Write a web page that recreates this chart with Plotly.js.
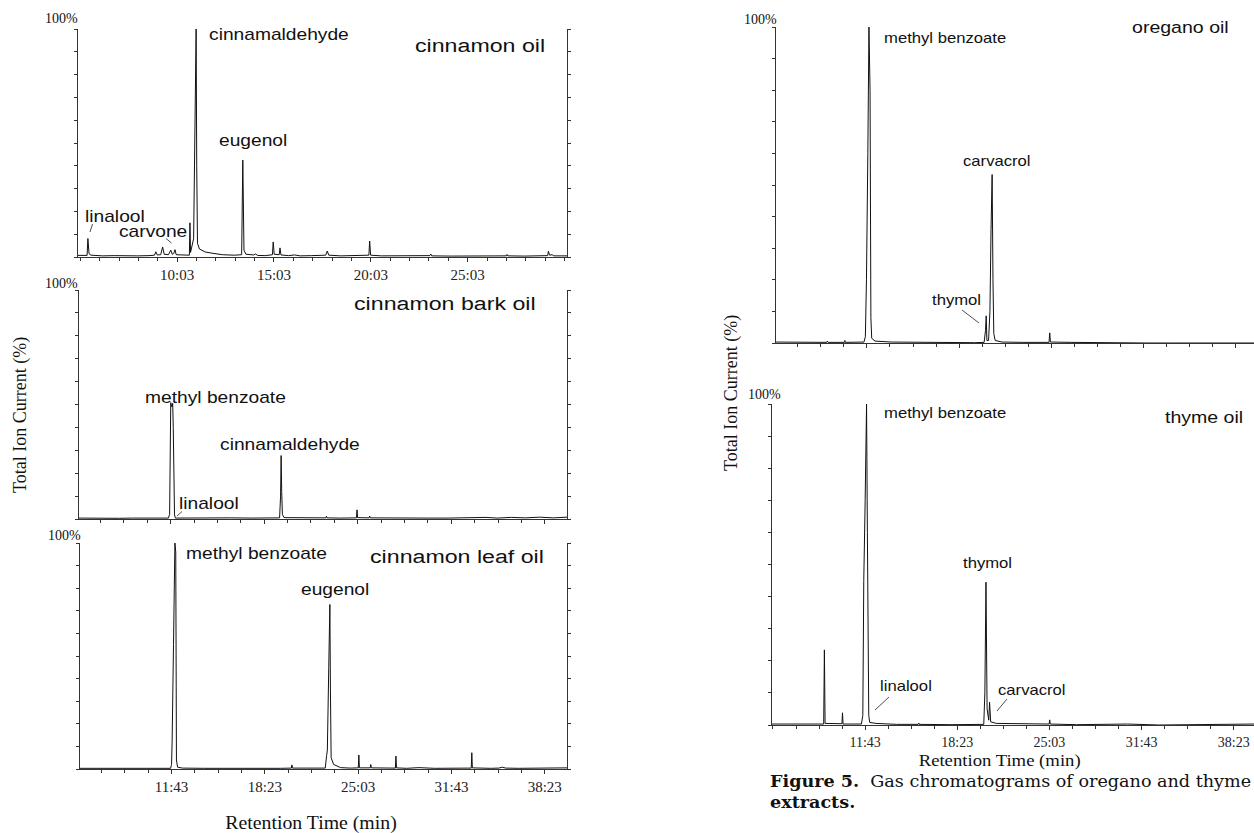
<!DOCTYPE html>
<html><head><meta charset="utf-8">
<script src="https://cdn.plot.ly/plotly-3.0.1.min.js"></script>
<style>html,body{margin:0;padding:0;background:#fff;}#chart{width:1254px;height:833px;}</style>
</head><body><div id="chart"></div>
<script>
// ---------- data (retention time in min, total ion current in %) ----------
const cinnamonOilTime = [4.93,5.2,5.40,5.44,5.50,5.6,6.2,6.8,7.4,8.0,8.6,8.88,8.95,9.02,9.2,9.30,9.38,9.6,9.72,9.80,9.87,9.94,10.0,10.3,10.68,10.71,10.74,10.9,11.0,11.03,11.06,11.1,11.2,11.5,11.9,12.4,13.0,13.38,13.44,13.5,13.6,14.0,14.1,14.2,14.6,14.97,15.01,15.06,15.32,15.36,15.41,15.8,16.12,16.4,17.0,17.72,17.8,17.88,18.5,19.2,19.95,19.99,20.04,20.6,21.5,22.3,23.1,23.15,23.2,24.2,25.2,26.2,27.04,27.08,27.12,28.0,28.8,29.18,29.22,29.28,29.41,29.5,30.18];
const cinnamonOilTIC  = [0.7,0.6,0.7,8.1,1.5,0.8,0.5,0.6,0.4,0.5,0.6,0.8,2.3,0.9,1.0,4.4,1.2,1.0,3.0,1.2,1.5,3.2,1.0,0.8,0.8,15,2,8,90,100,40,6,3.5,2.2,1.6,1.0,0.8,1.0,42.5,3,1.2,0.9,1.3,0.7,0.6,1.0,6.6,1.2,1.0,4.0,0.9,0.6,0.9,0.5,0.6,0.8,2.6,0.8,0.5,0.6,0.8,7.0,0.8,0.5,0.6,0.5,0.6,1.3,0.5,0.4,0.5,0.4,0.5,1.1,0.5,0.4,0.5,0.6,2.5,0.8,1.0,0.5,0.5];

const barkOilTime = [5.18,6.0,7.0,8.0,9.0,10.0,11.0,11.55,11.64,11.68,11.72,11.80,11.86,11.90,11.94,11.99,12.05,13.0,14.5,16.0,17.5,19.0,19.48,19.55,19.59,19.63,19.68,19.8,20.5,21.5,22.78,22.82,22.86,23.8,24.96,25.0,25.04,25.86,25.9,25.95,27.0,28.5,30.0,31.5,33.2,34.2,35.0,36.0,37.0,38.0,39.0,39.97];
const barkOilTIC  = [0.4,0.3,0.4,0.3,0.4,0.3,0.4,0.4,2,45,50.8,49,50.5,40,2,1.8,0.4,0.5,0.4,0.5,0.4,0.4,0.5,10,27.7,12,2,0.6,0.5,0.4,0.5,1.2,0.5,0.4,0.5,4.0,0.6,0.5,1.3,0.5,0.4,0.5,0.4,0.4,0.5,0.7,0.4,0.7,0.5,0.8,0.5,0.8];

const leafOilTime = [5.18,7.3,8.0,8.98,9.02,9.06,10.5,11.65,11.72,11.76,11.86,11.96,12.02,12.07,12.15,12.5,14.0,16.0,18.0,19.5,20.28,20.32,20.36,21.5,22.7,22.8,22.85,22.95,23.03,23.07,23.12,23.3,23.62,23.8,24.5,25.06,25.1,25.14,25.91,25.95,26.0,27.0,27.71,27.75,27.79,28.5,29.39,30.5,32.0,33.13,33.17,33.21,34.5,35.1,35.34,35.6,36.5,38.0,38.5,39.97];
const leafOilTIC  = [0.3,0.3,0.2,0.2,0.5,0.2,0.2,0.3,2,12,55,100,96,4,0.8,0.4,0.3,0.2,0.2,0.3,0.4,1.8,0.4,0.3,0.4,6,8.4,45,72.8,35,5,2,1.0,0.6,0.4,0.5,6.2,0.5,0.5,2.0,0.5,0.3,0.4,5.7,0.5,0.3,0.6,0.3,0.3,0.4,7.2,0.5,0.3,0.4,0.8,0.4,0.3,0.3,0.5,0.5];

const oreganoTime = [5.13,6.5,7.5,8.80,8.84,8.9,10.08,10.12,10.16,11.5,11.6,11.68,11.78,11.86,11.94,12.0,12.06,12.3,13.5,15.0,16.5,18.0,19.5,20.2,20.3,20.35,20.4,20.52,20.62,20.7,20.78,20.84,20.9,21.0,21.5,23.0,24.9,24.95,25.0,26.5,28.0,30.0,32.0,34.0,36.0,38.0,39.74];
const oreganoTIC  = [0.3,0.3,0.2,0.2,0.6,0.2,0.2,0.8,0.2,0.3,2,20,60,100,80,8,1.5,0.6,0.3,0.2,0.1,0.2,0.1,0.2,4,8.6,0.8,0.8,10,36,53.3,20,3,0.8,0.3,0.2,0.2,3.2,0.3,0.2,0.1,0.2,0,0,0,0,0];

const thymeTime = [4.98,6.0,7.5,8.72,8.77,8.82,10.04,10.08,10.12,11.45,11.55,11.62,11.72,11.82,11.88,11.93,11.98,12.05,12.5,14.0,15.56,15.6,15.64,18.0,20.3,20.38,20.46,20.54,20.66,20.72,20.8,21.2,23.0,25.03,25.07,25.11,27.0,30.7,33.0,36.0,38.0,39.85];
const thymeTIC  = [0.3,0.3,0.2,0.3,23.4,0.5,0.4,3.8,0.3,0.3,3,45,70,100,60,5.2,3,0.8,0.5,0.2,0.2,0.6,0.2,0.1,0.2,10,44.5,5,1.5,7.1,1.0,0.5,0.3,0.3,1.6,0.3,0.1,0.3,0,0.1,0.2,0.3];

// tick labels
const tickValsA = [10.05,15.05,20.05,25.05];
const tickTextA = ['10:03','15:03','20:03','25:03'];
const tickValsB = [11.717,18.383,25.05,31.717,38.383];
const tickTextB = ['11:43','18:23','25:03','31:43','38:23'];

// ---------- layout helpers ----------
const W = 1254, H = 833;
const px = x => x / W;
const py = y => 1 - y / H;
const AX = '#333';
const SANS = 'Liberation Sans, Arial, sans-serif';
const SERIF = 'Liberation Serif, Times New Roman, serif';

function trace(t, v, n) {
  return {x: t, y: v, xaxis: 'x' + (n === 1 ? '' : n), yaxis: 'y' + (n === 1 ? '' : n),
    type: 'scatter', mode: 'lines', line: {color: '#111', width: 1}, hoverinfo: 'skip'};
}
function xax(dom, rng, anchor, vals, text, showLabels, minorDt) {
  return {domain: [px(dom[0]), px(dom[1])], range: rng, anchor: anchor,
    showgrid: false, zeroline: false, showline: true, linecolor: AX, linewidth: 1,
    tickmode: 'array', tickvals: vals, ticktext: text, showticklabels: showLabels,
    ticks: 'outside', ticklen: 4, tickcolor: AX, tickwidth: 1,
    tickfont: {family: SERIF, size: 15, color: '#222'},
    minor: {tickmode: 'linear', tick0: vals[0], dtick: minorDt, ticks: 'outside', ticklen: 3, tickcolor: AX},
    fixedrange: true};
}
function yax(dom, anchor, mirror) {
  return {domain: [py(dom[1]), py(dom[0])], range: [0, 100], anchor: anchor,
    showgrid: false, zeroline: false, showline: true, linecolor: AX, linewidth: 1,
    mirror: mirror ? 'ticks' : false,
    tickmode: 'linear', tick0: 0, dtick: 10, ticks: 'outside', ticklen: 3, tickcolor: AX,
    showticklabels: false, fixedrange: true};
}
const ann = [];
const annStretch = [];
function label(text, x, y, size, family, extra, stretch) {
  ann.push(Object.assign({text: text, xref: 'paper', yref: 'paper', x: px(x), y: py(y),
    xanchor: 'left', yanchor: 'middle', showarrow: false,
    font: {family: family || SANS, size: size, color: '#111'}}, extra || {}));
  annStretch.push(stretch || 1);
}
const shapes = [];
function leader(x0, y0, x1, y1) {
  shapes.push({type: 'line', xref: 'paper', yref: 'paper', x0: px(x0), y0: py(y0), x1: px(x1), y1: py(y1),
    line: {color: '#222', width: 0.8}});
}

const data = [
  trace(cinnamonOilTime, cinnamonOilTIC, 1),
  trace(barkOilTime, barkOilTIC, 2),
  trace(leafOilTime, leafOilTIC, 3),
  trace(oreganoTime, oreganoTIC, 4),
  trace(thymeTime, thymeTIC, 5)
];

const layout = {
  width: W, height: H, margin: {l: 0, r: 0, t: 0, b: 0},
  paper_bgcolor: '#fff', plot_bgcolor: '#fff', showlegend: false,
  xaxis:  xax([78, 567], [4.93, 30.18], 'y', tickValsA, tickTextA, true, 1),
  yaxis:  yax([29, 257], 'x', true),
  xaxis2: xax([79, 567], [5.18, 39.97], 'y2', tickValsB, tickTextB, false, 1.6667),
  yaxis2: yax([290, 519], 'x2', true),
  xaxis3: xax([80, 567], [5.18, 39.97], 'y3', tickValsB, tickTextB, true, 1.6667),
  yaxis3: yax([543, 769], 'x3', true),
  xaxis4: xax([776, 1254], [5.13, 39.74], 'y4', tickValsB, tickTextB, false, 1.6667),
  yaxis4: yax([27, 343], 'x4', false),
  xaxis5: xax([772, 1254], [4.98, 39.85], 'y5', tickValsB, tickTextB, true, 1.6667),
  yaxis5: yax([404, 725], 'x5', false),
  annotations: ann, shapes: shapes
};
layout.xaxis5.tickfont = {family: SERIF, size: 14, color: '#222'};

// 100% labels
label('100%', 80, 19, 14, SERIF, {xanchor: 'right'});
label('100%', 80, 283, 14, SERIF, {xanchor: 'right'});
label('100%', 83, 535, 14, SERIF, {xanchor: 'right'});
label('100%', 779, 20, 14, SERIF, {xanchor: 'right'});
label('100%', 783, 395, 14, SERIF, {xanchor: 'right'});

// panel 1
label('cinnamaldehyde', 207, 34, 16, SANS, null, 1.2);
label('cinnamon oil', 413, 45, 19, SANS, null, 1.22);
label('eugenol', 217, 140, 16, SANS, null, 1.2);
label('linalool', 83, 217, 16, SANS, null, 1.2);
label('carvone', 117, 232, 16, SANS, null, 1.2);
leader(92.5, 224, 90, 232);
leader(166, 238.5, 171.5, 243);
// panel 2
label('cinnamon bark oil', 352, 303, 19, SANS, null, 1.22);
label('methyl benzoate', 143, 397, 16, SANS, null, 1.2);
label('cinnamaldehyde', 218, 444, 16, SANS, null, 1.2);
label('linalool', 177, 504, 16, SANS, null, 1.2);
leader(182, 511.5, 177, 516);
// panel 3
label('methyl benzoate', 184, 553, 16, SANS, null, 1.2);
label('cinnamon leaf oil', 368, 556, 19, SANS, null, 1.22);
label('eugenol', 299, 589, 16, SANS, null, 1.2);
// panel 4
label('methyl benzoate', 882, 38, 14, SANS, null, 1.19);
label('oregano oil', 1130, 28, 17, SANS, null, 1.15);
label('carvacrol', 961, 161, 14, SANS, null, 1.19);
label('thymol', 930, 300, 14, SANS, null, 1.19);
leader(962, 310, 979, 323);
// panel 5
label('methyl benzoate', 882, 413, 14, SANS, null, 1.19);
label('thyme oil', 1163, 417, 17, SANS, null, 1.15);
label('thymol', 961, 563, 14, SANS, null, 1.19);
label('linalool', 878, 686, 14, SANS, null, 1.19);
leader(889, 697, 875, 710);
label('carvacrol', 996, 690, 14, SANS, null, 1.19);
leader(1007, 699, 997, 711);

// axis titles
label('Total Ion Current (%)', 20, 415, 18, SERIF, {xanchor: 'center', textangle: -90});
label('Total Ion Current (%)', 731, 393, 18, SERIF, {xanchor: 'center', textangle: -90});
label('Retention Time (min)', 311, 823, 18, SERIF, {xanchor: 'center'}, 1.1);
label('Retention Time (min)', 999, 760, 17, SERIF, {xanchor: 'center'}, 1.1);

// caption (two lines in one text block)
label('<b>Figure 5.</b>  Gas chromatograms of oregano and thyme<br><b>extracts.</b>', 768, 792, 16,
      'DejaVu Serif, serif', {align: 'left'}, 1.1);

Plotly.newPlot('chart', data, layout, {staticPlot: true, displayModeBar: false}).then(function () {
  // horizontally widen label texts to match the stretched lettering of the original figure
  document.querySelectorAll('g.annotation').forEach(function (g) {
    var i = +g.getAttribute('data-index');
    var k = annStretch[i];
    if (!k || k === 1) return;
    var t = g.querySelector('text.annotation-text');
    if (!t) return;
    var centred = ann[i].xanchor === 'center';
    t.style.transformBox = 'fill-box';
    t.style.transformOrigin = centred ? '50% 50%' : '0% 50%';
    t.style.transform = 'scaleX(' + k + ')';
  });
});
</script></body></html>
